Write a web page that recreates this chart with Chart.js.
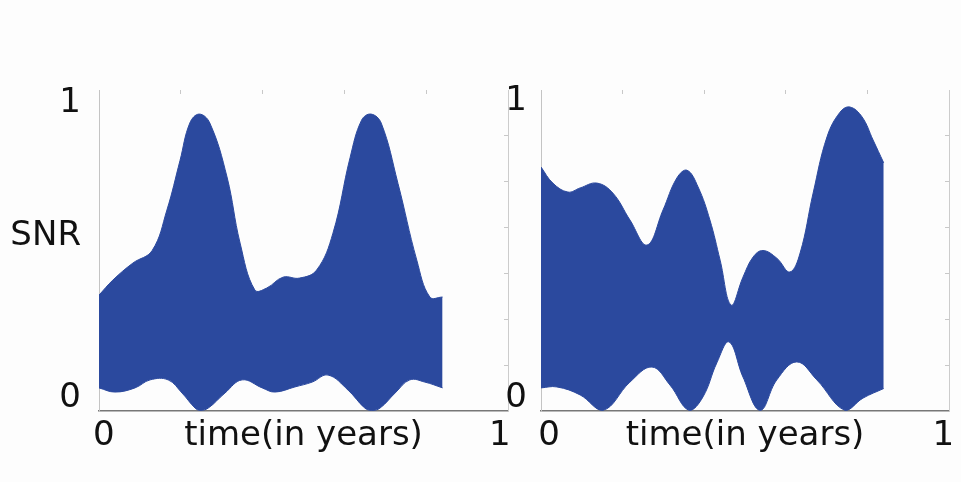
<!DOCTYPE html>
<html>
<head>
<meta charset="utf-8">
<script src="https://cdn.jsdelivr.net/npm/chart.js@4.4.0/dist/chart.umd.min.js"></script>
<style>
  body { margin: 0; background: #fdfdfd; }
  canvas { position: absolute; top: 0; }
  #left { left: 0; }
  #right { left: 500px; }
</style>
</head>
<body>
<canvas id="left" width="520" height="482"></canvas>
<canvas id="right" width="461" height="482"></canvas>
<script>
// left panel: upper and lower envelope of the SNR band
var leftUpperTime = [0, 0.034, 0.083, 0.13, 0.166, 0.198, 0.222, 0.245, 0.271, 0.313, 0.345, 0.381, 0.41, 0.45, 0.49, 0.532, 0.572, 0.614, 0.642, 0.665, 0.69, 0.731, 0.777, 0.809, 0.84];
var leftUpperSnr = [0.361, 0.408, 0.461, 0.50, 0.626, 0.78, 0.897, 0.925, 0.897, 0.729, 0.523, 0.377, 0.383, 0.417, 0.414, 0.439, 0.554, 0.79, 0.906, 0.925, 0.897, 0.709, 0.47, 0.355, 0.355];
var leftLowerTime = [0, 0.039, 0.088, 0.125, 0.169, 0.203, 0.235, 0.247, 0.267, 0.308, 0.35, 0.399, 0.43, 0.479, 0.521, 0.56, 0.609, 0.65, 0.667, 0.687, 0.724, 0.76, 0.797, 0.84];
var leftLowerSnr = [0.072, 0.059, 0.072, 0.097, 0.097, 0.056, 0.009, 0.002, 0.009, 0.056, 0.097, 0.072, 0.059, 0.075, 0.09, 0.112, 0.065, 0.009, 0.002, 0.009, 0.056, 0.097, 0.09, 0.072];

// right panel
var rightUpperTime = [0, 0.029, 0.066, 0.096, 0.137, 0.176, 0.218, 0.26, 0.299, 0.333, 0.358, 0.385, 0.414, 0.439, 0.466, 0.495, 0.52, 0.544, 0.578, 0.61, 0.635, 0.667, 0.701, 0.733, 0.757, 0.787, 0.814, 0.84];
var rightUpperSnr = [0.76, 0.71, 0.682, 0.695, 0.71, 0.679, 0.595, 0.517, 0.626, 0.726, 0.75, 0.698, 0.595, 0.47, 0.33, 0.417, 0.48, 0.50, 0.476, 0.433, 0.492, 0.679, 0.854, 0.931, 0.947, 0.916, 0.844, 0.773];
var rightLowerTime = [0, 0.039, 0.096, 0.152, 0.218, 0.272, 0.316, 0.363, 0.397, 0.431, 0.461, 0.495, 0.537, 0.578, 0.627, 0.676, 0.745, 0.789, 0.84];
var rightLowerSnr = [0.072, 0.075, 0.05, 0.002, 0.09, 0.137, 0.081, 0.002, 0.044, 0.15, 0.215, 0.106, 0.002, 0.097, 0.153, 0.097, 0.002, 0.04, 0.07];

var yTickLabelsLeft = ['0', 'SNR', '1'];
var yTickLabelsRight = ['0', '1'];
var xTickLabels = ['0', '1'];
var xTitle = 'time(in years)';

var blue = '#2b499e';
var font = { family: 'DejaVu Sans', size: 34 };

function toPoints(ts, vs) {
  return ts.map(function (t, i) { return { x: t, y: vs[i] }; });
}

function fixed(n) {
  return function (scale) {
    if (scale.isHorizontal()) scale.height = n; else scale.width = n;
  };
}

function setTicks(values) {
  return function (scale) {
    scale.ticks = values.map(function (v) { return { value: v }; });
  };
}

function makeChart(id, upT, upV, loT, loV, p) {
  var ctx = document.getElementById(id).getContext('2d');
  return new Chart(ctx, {
    type: 'line',
    data: {
      datasets: [{
        data: toPoints(upT, upV),
        borderColor: blue,
        borderWidth: 1,
        backgroundColor: blue,
        pointRadius: 0,
        tension: 0.4,
        fill: '+1'
      }, {
        data: toPoints(loT, loV),
        borderColor: blue,
        borderWidth: 1,
        pointRadius: 0,
        tension: 0.4,
        fill: false
      }]
    },
    options: {
      responsive: false,
      animation: false,
      layout: { padding: 0 },
      plugins: { legend: { display: false }, tooltip: { enabled: false } },
      scales: {
        x: {
          type: 'linear', min: 0, max: 1,
          afterBuildTicks: setTicks(p.xAt),
          afterFit: fixed(71),
          grid: { display: false },
          border: { color: '#777', width: 1.5 },
          ticks: {
            font: font, color: '#111', padding: -3, maxRotation: 0, autoSkip: false,
            callback: function (v, i) { return xTickLabels[i]; }
          },
          title: { display: true, text: xTitle, font: font, color: '#111', padding: { top: 0, bottom: 25 } }
        },
        top: {
          type: 'linear', position: 'top', min: 0, max: 1,
          afterBuildTicks: setTicks([0.2, 0.4, 0.6, 0.8]),
          afterFit: fixed(90),
          grid: { drawOnChartArea: false, tickLength: -4, color: '#c8c8c8' },
          border: { display: false },
          ticks: { display: false }
        },
        y: {
          type: 'linear', min: 0, max: 1,
          afterBuildTicks: setTicks(p.yAt),
          afterFit: fixed(p.yWidth),
          grid: { display: false },
          border: { color: '#c4c4c4', width: 1 },
          ticks: {
            font: font, color: '#111', padding: p.yPad, autoSkip: false,
            callback: function (v, i) { return p.yLabels[i]; }
          }
        },
        y2: {
          type: 'linear', position: 'right', min: 0, max: 1,
          afterBuildTicks: setTicks([1, 2, 3, 4, 5, 6].map(function (k) { return k / 7; })),
          afterFit: fixed(12),
          grid: { drawOnChartArea: false, tickLength: -4, color: '#c8c8c8' },
          border: { color: '#cccccc', width: 1 },
          ticks: { display: false }
        }
      }
    }
  });
}

makeChart('left', leftUpperTime, leftUpperSnr, leftLowerTime, leftLowerSnr, {
  yWidth: 99, yPad: 10, yAt: [0.04, 0.545, 0.96], yLabels: yTickLabelsLeft, xAt: [0.012, 0.98]
});
makeChart('right', rightUpperTime, rightUpperSnr, rightLowerTime, rightLowerSnr, {
  yWidth: 41, yPad: 6, yAt: [0.04, 0.965], yLabels: yTickLabelsRight, xAt: [0.02, 0.986]
});
</script>
</body>
</html>
